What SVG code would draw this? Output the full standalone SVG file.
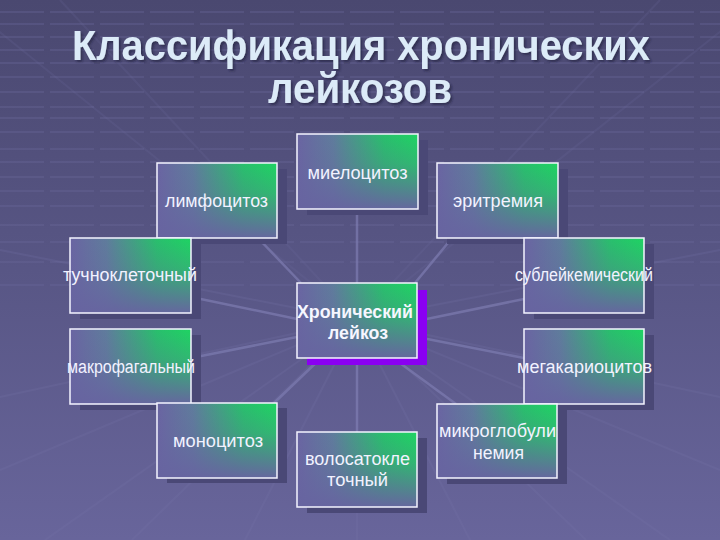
<svg xmlns="http://www.w3.org/2000/svg" width="720" height="540" viewBox="0 0 720 540">
<defs>
<linearGradient id="bg" x1="0" y1="0" x2="0" y2="1">
<stop offset="0" stop-color="#4a4870"/>
<stop offset="0.5" stop-color="#585685"/>
<stop offset="1" stop-color="#68659b"/>
</linearGradient>
<linearGradient id="gH" x1="0" y1="0" x2="1" y2="0">
<stop offset="0" stop-color="#6a64a2"/>
<stop offset="0.3" stop-color="#5f7c9c"/>
<stop offset="0.72" stop-color="#28c06c"/>
<stop offset="1" stop-color="#1ed462"/>
</linearGradient>
<linearGradient id="gV" x1="0" y1="0" x2="0" y2="1">
<stop offset="0" stop-color="#6764a0" stop-opacity="0"/>
<stop offset="0.4" stop-color="#6764a0" stop-opacity="0.25"/>
<stop offset="1" stop-color="#6764a0" stop-opacity="0.97"/>
</linearGradient>
<filter id="ts" x="-5%" y="-20%" width="110%" height="140%">
<feDropShadow dx="2" dy="2" stdDeviation="0.8" flood-color="#22223a" flood-opacity="0.6"/>
</filter>
</defs>
<style>
.title{font-family:"Liberation Sans",Arial,sans-serif;font-weight:bold;font-size:42px;fill:#dcebf8;text-anchor:middle}
.lbl{font-family:"Liberation Sans",Arial,sans-serif;font-size:18px;fill:#f2f2ff;text-anchor:middle}
.clbl{font-family:"Liberation Sans",Arial,sans-serif;font-size:18px;font-weight:bold;fill:#f6f6ff;text-anchor:middle}
.sh{fill:#4a4876}
.psh{fill:#8a00f2}
.f1{fill:url(#gH)}
.f2{fill:url(#gV)}
.bd{fill:none;stroke:#f4f4ff;stroke-width:1.5}
.hl{stroke:#6a689a;stroke-width:2;stroke-dasharray:44 6;opacity:0.35}
.bl{stroke:#7674a8;stroke-width:2;opacity:0.22}
.tl{stroke:#6e6ca0;stroke-width:2;opacity:0.18}
.cn{stroke:#7e7cb0;stroke-width:2.5;opacity:0.7;fill:none}
</style>
<rect width="720" height="540" fill="url(#bg)"/>
<g id="background">
<line class="hl" x1="0" y1="12" x2="720" y2="12"/>
<line class="hl" x1="0" y1="24" x2="720" y2="24"/>
<line class="hl" x1="0" y1="37" x2="720" y2="37"/>
<line class="hl" x1="0" y1="50" x2="720" y2="50"/>
<line class="hl" x1="0" y1="63" x2="720" y2="63"/>
<line class="hl" x1="0" y1="77" x2="720" y2="77"/>
<line class="hl" x1="0" y1="92" x2="720" y2="92"/>
<line class="hl" x1="0" y1="107" x2="720" y2="107"/>
<line class="hl" x1="0" y1="118" x2="720" y2="118"/>
<line class="hl" x1="0" y1="132" x2="720" y2="132"/>
<line class="hl" x1="0" y1="149" x2="720" y2="149"/>
<line class="hl" x1="0" y1="162" x2="720" y2="162"/>
<line class="hl" x1="0" y1="177" x2="720" y2="177"/>
<line class="hl" x1="0" y1="191" x2="720" y2="191"/>
<line class="hl" x1="0" y1="206" x2="720" y2="206"/>
<line class="hl" x1="0" y1="225" x2="720" y2="225"/>
<line class="hl" x1="0" y1="242" x2="720" y2="242"/>
<line class="hl" x1="0" y1="262" x2="720" y2="262" opacity="0.25"/>
<line class="hl" x1="0" y1="285" x2="720" y2="285" opacity="0.18"/>
<line class="tl" x1="357" y1="320" x2="-40" y2="0"/>
<line class="tl" x1="357" y1="320" x2="60" y2="0"/>
<line class="tl" x1="357" y1="320" x2="660" y2="0"/>
<line class="tl" x1="357" y1="320" x2="760" y2="0"/>
<line class="bl" x1="357" y1="320" x2="0" y2="250"/>
<line class="bl" x1="357" y1="320" x2="720" y2="250"/>
<line class="bl" x1="357" y1="320" x2="0" y2="397"/>
<line class="bl" x1="357" y1="320" x2="720" y2="397"/>
<line class="bl" x1="357" y1="320" x2="0" y2="470"/>
<line class="bl" x1="357" y1="320" x2="720" y2="470"/>
<line class="bl" x1="357" y1="320" x2="45" y2="540"/>
<line class="bl" x1="357" y1="320" x2="670" y2="540"/>
<line class="bl" x1="357" y1="320" x2="132" y2="540"/>
<line class="bl" x1="357" y1="320" x2="586" y2="540"/>
<line class="bl" x1="357" y1="320" x2="245" y2="540"/>
<line class="bl" x1="357" y1="320" x2="470" y2="540"/>
<line class="bl" x1="357" y1="320" x2="357" y2="540"/>
</g>
<g id="title" filter="url(#ts)">
<text class="title" x="361" y="60" textLength="578" lengthAdjust="spacingAndGlyphs">Классификация хронических</text>
<text class="title" x="360" y="103" textLength="184" lengthAdjust="spacingAndGlyphs">лейкозов</text>
</g>
<g id="connectors">
<line class="cn" x1="357" y1="209" x2="357" y2="283"/>
<line class="cn" x1="258" y1="238" x2="301" y2="283"/>
<line class="cn" x1="452" y1="238" x2="415" y2="283"/>
<line class="cn" x1="191" y1="297" x2="297" y2="319"/>
<line class="cn" x1="417" y1="321" x2="524" y2="299"/>
<line class="cn" x1="191" y1="358" x2="297" y2="337"/>
<line class="cn" x1="417" y1="337" x2="524" y2="358"/>
<line class="cn" x1="274" y1="403" x2="321" y2="358"/>
<line class="cn" x1="456" y1="404" x2="393" y2="358"/>
<line class="cn" x1="357" y1="358" x2="357" y2="432"/>
</g>
<g id="n-mielocitoz">
<rect class="sh" x="307" y="140" width="121" height="75"/>
<rect class="f1" x="297" y="134" width="121" height="75"/>
<rect class="f2" x="297" y="134" width="121" height="75"/>
<rect class="bd" x="297" y="134" width="121" height="75"/>
<text class="lbl" x="357.5" y="179" textLength="100" lengthAdjust="spacingAndGlyphs">миелоцитоз</text>
</g>
<g id="n-limfocitoz">
<rect class="sh" x="167" y="169" width="120" height="75"/>
<rect class="f1" x="157" y="163" width="120" height="75"/>
<rect class="f2" x="157" y="163" width="120" height="75"/>
<rect class="bd" x="157" y="163" width="120" height="75"/>
<text class="lbl" x="216.5" y="207" textLength="103" lengthAdjust="spacingAndGlyphs">лимфоцитоз</text>
</g>
<g id="n-eritremiya">
<rect class="sh" x="447" y="169" width="121" height="75"/>
<rect class="f1" x="437" y="163" width="121" height="75"/>
<rect class="f2" x="437" y="163" width="121" height="75"/>
<rect class="bd" x="437" y="163" width="121" height="75"/>
<text class="lbl" x="498" y="207" textLength="90" lengthAdjust="spacingAndGlyphs">эритремия</text>
</g>
<g id="n-tuchnokletochny">
<rect class="sh" x="80" y="244" width="121" height="75"/>
<rect class="f1" x="70" y="238" width="121" height="75"/>
<rect class="f2" x="70" y="238" width="121" height="75"/>
<rect class="bd" x="70" y="238" width="121" height="75"/>
<text class="lbl" x="130" y="281" textLength="134" lengthAdjust="spacingAndGlyphs">тучноклеточный</text>
</g>
<g id="n-subleikemichesky">
<rect class="sh" x="534" y="244" width="120" height="75"/>
<rect class="f1" x="524" y="238" width="120" height="75"/>
<rect class="f2" x="524" y="238" width="120" height="75"/>
<rect class="bd" x="524" y="238" width="120" height="75"/>
<text class="lbl" x="584" y="281" textLength="138" lengthAdjust="spacingAndGlyphs">сублейкемический</text>
</g>
<g id="n-makrofagalny">
<rect class="sh" x="80" y="335" width="121" height="75"/>
<rect class="f1" x="70" y="329" width="121" height="75"/>
<rect class="f2" x="70" y="329" width="121" height="75"/>
<rect class="bd" x="70" y="329" width="121" height="75"/>
<text class="lbl" x="131" y="373" textLength="128" lengthAdjust="spacingAndGlyphs">макрофагальный</text>
</g>
<g id="n-megakariocitov">
<rect class="sh" x="534" y="335" width="120" height="75"/>
<rect class="f1" x="524" y="329" width="120" height="75"/>
<rect class="f2" x="524" y="329" width="120" height="75"/>
<rect class="bd" x="524" y="329" width="120" height="75"/>
<text class="lbl" x="584.5" y="373" textLength="135" lengthAdjust="spacingAndGlyphs">мегакариоцитов</text>
</g>
<g id="n-monocitoz">
<rect class="sh" x="167" y="408" width="120" height="75"/>
<rect class="f1" x="157" y="403" width="120" height="75"/>
<rect class="f2" x="157" y="403" width="120" height="75"/>
<rect class="bd" x="157" y="403" width="120" height="75"/>
<text class="lbl" x="218" y="447" textLength="90" lengthAdjust="spacingAndGlyphs">моноцитоз</text>
</g>
<g id="n-volosatokletochny">
<rect class="sh" x="307" y="438" width="120" height="75"/>
<rect class="f1" x="297" y="432" width="120" height="75"/>
<rect class="f2" x="297" y="432" width="120" height="75"/>
<rect class="bd" x="297" y="432" width="120" height="75"/>
<text class="lbl" x="357.5" y="465" textLength="105" lengthAdjust="spacingAndGlyphs">волосатокле</text>
<text class="lbl" x="357.5" y="486" textLength="61" lengthAdjust="spacingAndGlyphs">точный</text>
</g>
<g id="n-mikroglobulinemiya">
<rect class="sh" x="447" y="409" width="120" height="75"/>
<rect class="f1" x="437" y="404" width="120" height="74"/>
<rect class="f2" x="437" y="404" width="120" height="74"/>
<rect class="bd" x="437" y="404" width="120" height="74"/>
<text class="lbl" x="497.5" y="437" textLength="117" lengthAdjust="spacingAndGlyphs">микроглобули</text>
<text class="lbl" x="498.5" y="459" textLength="51" lengthAdjust="spacingAndGlyphs">немия</text>
</g>
<g id="n-center">
<rect class="psh" x="307" y="290" width="120" height="75"/>
<rect class="f1" x="297" y="283" width="120" height="75"/>
<rect class="f2" x="297" y="283" width="120" height="75"/>
<rect class="bd" x="297" y="283" width="120" height="75"/>
<text class="clbl" x="355" y="318" textLength="116" lengthAdjust="spacingAndGlyphs">Хронический</text>
<text class="clbl" x="358" y="339" textLength="60" lengthAdjust="spacingAndGlyphs">лейкоз</text>
</g>
</svg>
